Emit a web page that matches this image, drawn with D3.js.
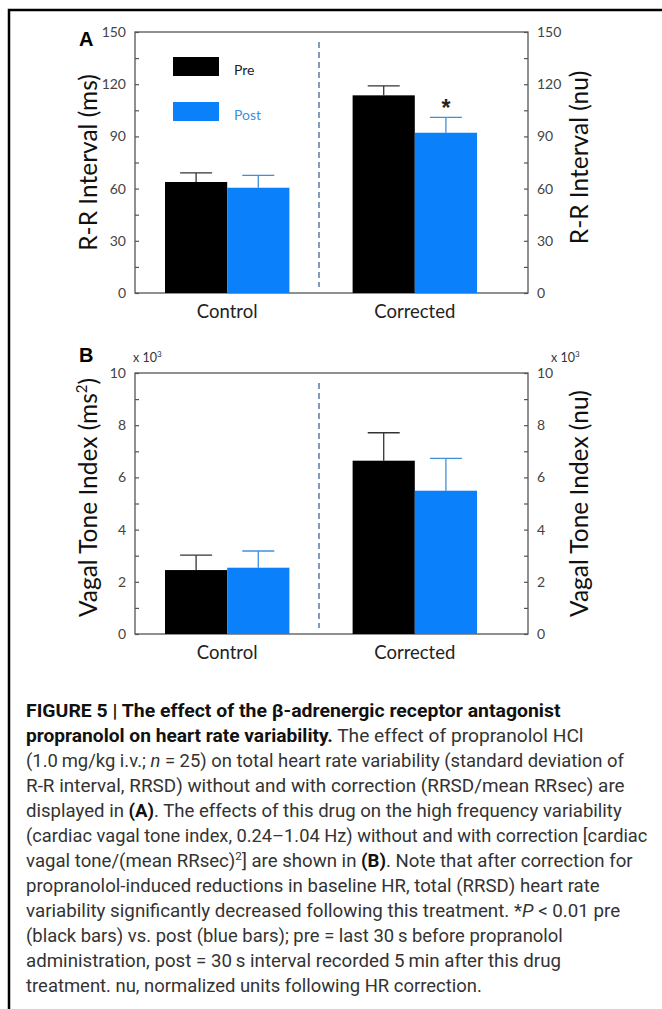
<!DOCTYPE html>
<html>
<head>
<meta charset="utf-8">
<script src="https://cdn.jsdelivr.net/npm/d3@7"></script>
<style>
  body { margin: 0; background: #fff; }
  svg { display: block; }
</style>
</head>
<body>
<script>
var width = 662, height = 1009;

// data
var categories = ["Control", "Corrected"];
var series = ["Pre", "Post"];

var rrPre = [63.8, 113.6];
var rrPreErr = [5.2, 5.4];
var rrPost = [60.5, 92.1];
var rrPostErr = [7.1, 8.8];

var vagalPre = [2.45, 6.64];
var vagalPreErr = [0.57, 1.07];
var vagalPost = [2.54, 5.49];
var vagalPostErr = [0.64, 1.24];

var rrTicks = [0, 30, 60, 90, 120, 150];
var rrMinor = [15, 45, 75, 105, 135];
var vagalTicks = [0, 2, 4, 6, 8, 10];
var vagalMinor = [1, 3, 5, 7, 9];

var barColor = {Pre: "#000000", Post: "#0a80fb"};
var errColor = {Pre: "#333333", Post: "#3f8fdc"};

var svg = d3.select("body").append("svg")
    .attr("width", width)
    .attr("height", height);

// figure border (top + left only)
svg.append("path")
    .attr("d", "M9,1009 V10 H662")
    .attr("fill", "none")
    .attr("stroke", "#000")
    .attr("stroke-width", 2.5);

var x0 = 135, x1 = 528;
var xCat = d3.scaleBand().domain(categories).range([165, 477]).paddingInner(0.337).paddingOuter(0);
var xSer = d3.scaleBand().domain(series).range([0, xCat.bandwidth()]);

function drawPanel(opt) {
    var g = svg.append("g");
    var y = opt.y;

    // frame
    g.append("rect")
        .attr("x", x0).attr("y", y.range()[1])
        .attr("width", x1 - x0).attr("height", y.range()[0] - y.range()[1])
        .attr("fill", "none").attr("stroke", "#555").attr("stroke-width", 1.3);

    // bars
    series.forEach(function (s) {
        var vals = opt.values[s], errs = opt.errors[s];
        var d = categories.map(function (c, i) { return {c: c, v: vals[i], e: errs[i]}; });

        g.selectAll(null).data(d).enter().append("line")
            .attr("x1", function (d) { return xCat(d.c) + xSer(s) + xSer.bandwidth() / 2; })
            .attr("x2", function (d) { return xCat(d.c) + xSer(s) + xSer.bandwidth() / 2; })
            .attr("y1", function (d) { return y(d.v); })
            .attr("y2", function (d) { return y(d.v + d.e); })
            .attr("stroke", errColor[s]).attr("stroke-width", 1.3);
        g.selectAll(null).data(d).enter().append("line")
            .attr("x1", function (d) { return xCat(d.c) + xSer(s) + xSer.bandwidth() / 2 - 16; })
            .attr("x2", function (d) { return xCat(d.c) + xSer(s) + xSer.bandwidth() / 2 + 16; })
            .attr("y1", function (d) { return y(d.v + d.e); })
            .attr("y2", function (d) { return y(d.v + d.e); })
            .attr("stroke", errColor[s]).attr("stroke-width", 1.3);

        g.selectAll(null).data(d).enter().append("rect")
            .attr("x", function (d) { return xCat(d.c) + xSer(s); })
            .attr("y", function (d) { return y(d.v); })
            .attr("width", xSer.bandwidth())
            .attr("height", function (d) { return y(0) - y(d.v); })
            .attr("fill", barColor[s]);
    });

    // dashed divider
    var mid = (xCat(categories[0]) + xCat.bandwidth() + xCat(categories[1])) / 2 - 2;
    g.append("line")
        .attr("x1", mid).attr("x2", mid)
        .attr("y1", y.range()[1] + 10).attr("y2", y.range()[0] - 6)
        .attr("stroke", "#5a78a8").attr("stroke-width", 1.5)
        .attr("stroke-dasharray", "6,4");

    // axes
    var left = g.append("g").attr("transform", "translate(" + x0 + ",0)")
        .call(d3.axisLeft(y).tickValues(opt.ticks).tickSize(-4).tickPadding(9));
    var leftMinor = g.append("g").attr("transform", "translate(" + x0 + ",0)")
        .call(d3.axisLeft(y).tickValues(opt.minor).tickSize(-4).tickFormat(""));
    var right = g.append("g").attr("transform", "translate(" + x1 + ",0)")
        .call(d3.axisRight(y).tickValues(opt.ticks).tickSize(-4).tickPadding(9));
    var rightMinor = g.append("g").attr("transform", "translate(" + x1 + ",0)")
        .call(d3.axisRight(y).tickValues(opt.minor).tickSize(-4).tickFormat(""));
    [left, leftMinor, right, rightMinor].forEach(function (a) {
        a.select(".domain").remove();
        a.selectAll("line").attr("stroke", "#555").attr("stroke-width", 1.2);
        a.selectAll("text").attr("font-family", "Lato").attr("font-size", 14).attr("fill", "#444");
    });

    // category labels
    g.selectAll(null).data(categories).enter().append("text")
        .attr("x", function (c) { return xCat(c) + xCat.bandwidth() / 2; })
        .attr("y", y(0) + 25)
        .attr("text-anchor", "middle")
        .attr("font-family", "Lato").attr("font-size", 18.5).attr("fill", "#222")
        .text(function (c) { return c; });

    // axis titles
    var cy = (y.range()[0] + y.range()[1]) / 2;
    var lt = g.append("text")
        .attr("transform", "translate(" + 97 + "," + (cy + opt.leftShift) + ") rotate(-90)")
        .attr("text-anchor", "middle")
        .attr("font-family", "Lato").attr("font-size", 24.5).attr("fill", "#111");
    lt.append("tspan").text(opt.leftTitle);
    if (opt.leftSup) {
        lt.append("tspan").attr("font-size", 15).attr("dy", -10).text(opt.leftSup);
        lt.append("tspan").attr("dy", 10).text(")");
    }
    g.append("text")
        .attr("transform", "translate(" + 588 + "," + (cy + opt.rightShift) + ") rotate(-90)")
        .attr("text-anchor", "middle")
        .attr("font-family", "Lato").attr("font-size", 24.5).attr("fill", "#111")
        .text(opt.rightTitle);

    // panel letter
    g.append("text")
        .attr("x", 79).attr("y", opt.letterY)
        .attr("font-family", "Liberation Sans").attr("font-weight", "bold")
        .attr("font-size", 20).attr("fill", "#000")
        .text(opt.letter);

    return g;
}

var yA = d3.scaleLinear().domain([0, 150]).range([293, 32]);
var gA = drawPanel({
    y: yA, ticks: rrTicks, minor: rrMinor,
    values: {Pre: rrPre, Post: rrPost}, errors: {Pre: rrPreErr, Post: rrPostErr},
    leftTitle: "R-R Interval (ms)", rightTitle: "R-R Interval (nu)",
    leftShift: 0, rightShift: -5, letter: "A", letterY: 46
});

// significance marker
gA.append("text")
    .attr("x", xCat("Corrected") + xSer("Post") + xSer.bandwidth() / 2)
    .attr("y", yA(rrPost[1] + rrPostErr[1]) - 1)
    .attr("text-anchor", "middle")
    .attr("font-family", "Liberation Sans").attr("font-weight", "bold")
    .attr("font-size", 23).attr("fill", "#222")
    .text("*");

// legend
var legend = gA.selectAll(null).data(series).enter().append("g")
    .attr("transform", function (s, i) { return "translate(173," + (57 + i * 45) + ")"; });
legend.append("rect").attr("width", 46).attr("height", 19)
    .attr("fill", function (s) { return barColor[s]; });
legend.append("text").attr("x", 61).attr("y", 18)
    .attr("font-family", "Lato").attr("font-size", 14)
    .attr("fill", function (s) { return s === "Post" ? "#3f8fdc" : "#222"; })
    .text(function (s) { return s; });

var yB = d3.scaleLinear().domain([0, 10]).range([634, 373]);
var gB = drawPanel({
    y: yB, ticks: vagalTicks, minor: vagalMinor,
    values: {Pre: vagalPre, Post: vagalPost}, errors: {Pre: vagalPreErr, Post: vagalPostErr},
    leftTitle: "Vagal Tone Index (ms", leftSup: "2", rightTitle: "Vagal Tone Index (nu)",
    leftShift: -6, rightShift: 0, letter: "B", letterY: 362
});

[133, 551].forEach(function (xx) {
    var t = gB.append("text").attr("x", xx).attr("y", 362)
        .attr("font-family", "Lato").attr("font-size", 12.5).attr("fill", "#333");
    t.append("tspan").text("x 10");
    t.append("tspan").attr("font-size", 8).attr("dy", -5).text("3");
});

// caption
var captionLines = [
    [["b", "FIGURE 5 | The effect of the \u03b2-adrenergic receptor antagonist"]],
    [["b", "propranolol on heart rate variability."], ["n", " The effect of propranolol HCl"]],
    [["n", "(1.0\u2009mg/kg i.v.; "], ["i", "n"], ["n", " = 25) on total heart rate variability (standard deviation of"]],
    [["n", "R-R interval, RRSD) without and with correction (RRSD/mean RRsec) are"]],
    [["n", "displayed in "], ["b", "(A)"], ["n", ". The effects of this drug on the high frequency variability"]],
    [["n", "(cardiac vagal tone index, 0.24\u20131.04 Hz) without and with correction [cardiac"]],
    [["n", "vagal tone/(mean RRsec)"], ["sup", "2"], ["n", "] are shown in "], ["b", "(B)"], ["n", ". Note that after correction for"]],
    [["n", "propranolol-induced reductions in baseline HR, total (RRSD) heart rate"]],
    [["n", "variability significantly decreased following this treatment. *"], ["i", "P"], ["n", " < 0.01 pre"]],
    [["n", "(black bars) vs. post (blue bars); pre = last 30\u2009s before propranolol"]],
    [["n", "administration, post = 30\u2009s interval recorded 5\u2009min after this drug"]],
    [["n", "treatment. nu, normalized units following HR correction."]]
];
// measured line lengths in the column (px)
var captionWidths = [535, 558, 598, 599, 596, 622, 607, 574, 595, 537, 535, 456];

var cap = svg.append("g");
var lines = cap.selectAll(null).data(captionLines).enter().append("text")
    .attr("x", 0)
    .attr("y", 0)
    .attr("font-family", "Roboto").attr("font-size", 17.5).attr("fill", "#333");
lines.each(function (segs, i) {
    var t = d3.select(this);
    var sup = false;
    segs.forEach(function (s) {
        var ts = t.append("tspan").text(s[1]);
        if (s[0] === "b") ts.attr("font-weight", "bold").attr("fill", "#111");
        if (s[0] === "i") ts.attr("font-style", "italic");
        if (s[0] === "sup") { ts.attr("font-size", 11).attr("dy", -7); sup = true; }
        else if (sup) { ts.attr("dy", 7); sup = false; }
    });
    var sx = captionWidths[i] / this.getComputedTextLength();
    t.attr("transform", "translate(26," + (717 + i * 25) + ") scale(" + sx + ",1)");
});
</script>
</body>
</html>
